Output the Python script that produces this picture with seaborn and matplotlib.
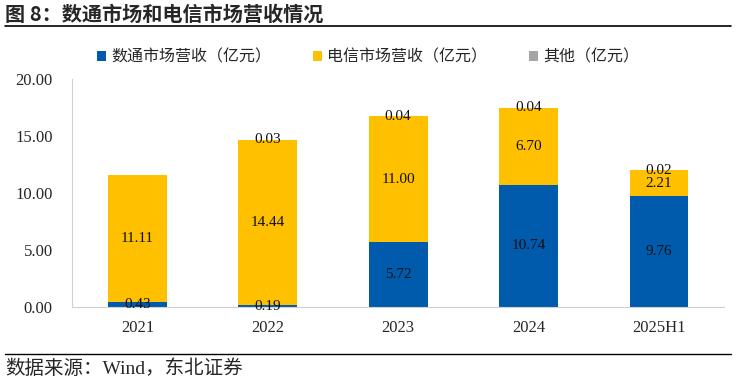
import matplotlib
matplotlib.use("Agg")
import matplotlib.pyplot as plt
import seaborn as sns
import pandas as pd
from matplotlib.patches import Patch
from matplotlib.lines import Line2D

# chart data
years = ["2021", "2022", "2023", "2024", "2025H1"]
datacom = [0.43, 0.19, 5.72, 10.74, 9.76]
telecom = [11.11, 14.44, 11.00, 6.70, 2.21]
other = [0.00, 0.03, 0.04, 0.04, 0.02]
series_names = ["数通市场营收（亿元）", "电信市场营收（亿元）", "其他（亿元）"]
yticks = [0, 5, 10, 15, 20]

colors = ["#005BAC", "#FFC000", "#A5A5A5"]

sns.set_theme(style="white")
fonts = ["Liberation Serif", "Noto Sans CJK SC", "DejaVu Sans"]
plt.rcParams["font.family"] = fonts

df = pd.DataFrame({"year": years, "datacom": datacom, "telecom": telecom, "other": other})
df["base2"] = df["datacom"] + df["telecom"]

fig = plt.figure(figsize=(7.36, 3.81), dpi=100)
ax = fig.add_axes([0.098, 0.194, 0.886, 0.599])

sns.barplot(data=df, x="year", y="datacom", color=colors[0], width=0.45,
            saturation=1, linewidth=0, ax=ax)
sns.barplot(data=df, x="year", y="telecom", bottom=df["datacom"], color=colors[1],
            width=0.45, saturation=1, linewidth=0, ax=ax)
sns.barplot(data=df, x="year", y="other", bottom=df["base2"], color=colors[2],
            width=0.45, saturation=1, linewidth=0, ax=ax)

vals = [datacom, telecom, other]
for cont, v in zip(ax.containers, vals):
    labels = [f"{x:.2f}" if x > 0 else "" for x in v]
    ax.bar_label(cont, labels=labels, label_type="center", fontsize=11,
                 color="#111111")

ax.set_ylim(0, 20)
ax.set_xlim(-0.5, 4.5)
ax.set_yticks(yticks)
ax.set_yticklabels([f"{t:.2f}" for t in yticks], fontsize=12)
ax.tick_params(axis="x", labelsize=12, pad=3)
ax.tick_params(axis="y", pad=8)
ax.set_xlabel("")
ax.set_ylabel("")
for s in ["top", "right"]:
    ax.spines[s].set_visible(False)
for s in ["left", "bottom"]:
    ax.spines[s].set_color("#D0D0D0")
    ax.spines[s].set_linewidth(0.8)

handles = [Patch(facecolor=c, edgecolor="none") for c in colors]
fig.legend(handles, series_names, loc="center", bbox_to_anchor=(0.5, 0.848),
           ncol=3, frameon=False, fontsize=11.5, handlelength=0.6,
           handleheight=0.6, handletextpad=0.3, columnspacing=2.6)

# title and footer
fig.text(0.007, 0.963, "图 8：数通市场和电信市场营收情况", fontsize=14.5,
         fontweight="bold", va="center", ha="left", family=["Noto Sans CJK SC"])
fig.add_artist(Line2D([0.007, 0.993], [0.932, 0.932], color="black", lw=1.2))
fig.add_artist(Line2D([0.007, 0.993], [0.071, 0.071], color="black", lw=1.0))
fig.text(0.007, 0.032, "数据来源：Wind，东北证券", fontsize=14, va="center",
         ha="left", family=fonts)

fig.savefig("out.png", dpi=100)
